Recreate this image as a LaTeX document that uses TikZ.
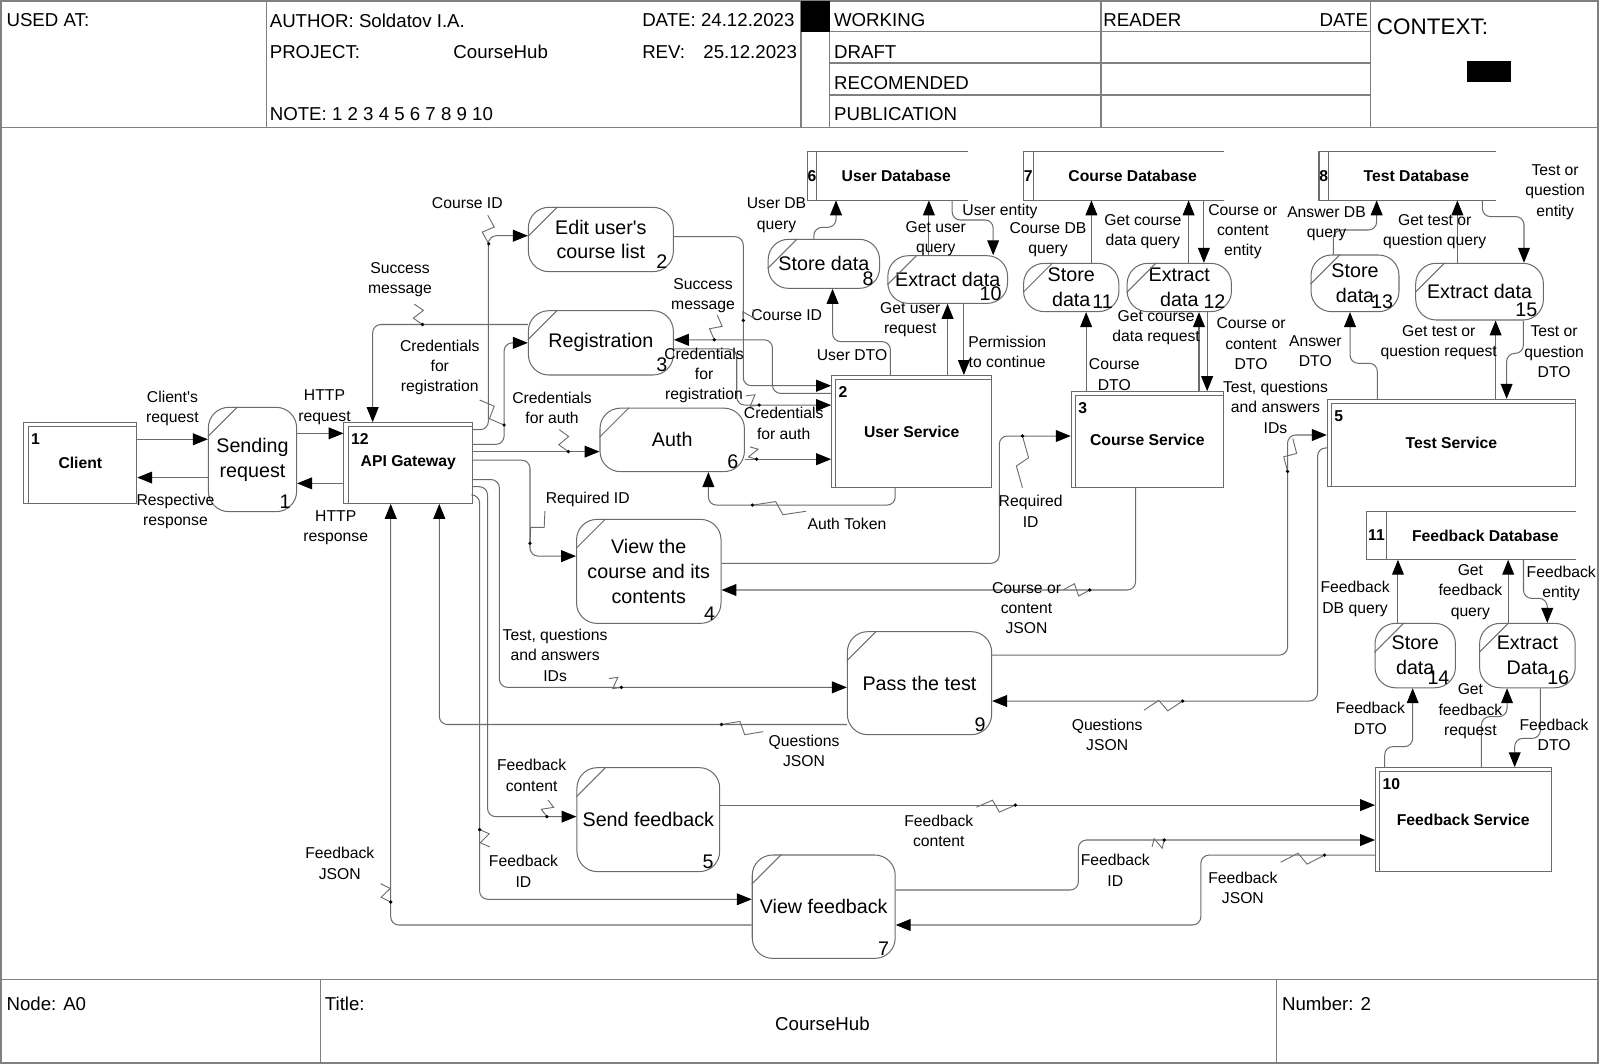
\documentclass[tikz,border=0pt]{standalone}
\usepackage{fontspec}
\setmainfont{Liberation Sans}
\usetikzlibrary{arrows.meta,calc,fit}
\definecolor{lc}{gray}{0.42}
\definecolor{fc}{gray}{0.5}
\newcommand\pr[7]{%
  \node[proct, fit={(#2,#3)(#4,#5)}] (#1) {};
  \node[prtext] (#1t) at (#1.center) {#6};
  \draw[ln] ($(#1.north west)+(0,29)$) -- ($(#1.north west)+(29,0)$);
  \node[prnum, anchor=south east] (#1n) at ($(#1.south east)+(-6,-3)$) {#7};}
\newcommand\eb[7]{%
  \node[ebst, fit={(#2,#3)(#4,#5)}] (#1) {};
  \node[ebnum] (#1t) at (#1.center) {#7};
  \draw[ln] ($(#1.south west)+(4.6,0)$) |- ($(#1.north east)+(0,4.6)$);
  \node[ebnum, anchor=west] (#1n) at ($(#1.north west)+(7,17)$) {#6};}
\newcommand\ds[8]{%
  \node[fit={(#2,#3)(#4,#5)}, inner sep=0pt] (#1) {};
  \draw[ln] (#1.north east) -- (#1.north west) -- (#1.south west) -- (#1.south east);
  \draw[ln] ($(#1.north west)+(#8,0)$) -- ($(#1.south west)+(#8,0)$);
  \node[ebnum] (#1n) at ($(#1.west)+(#8/2,0)$) {#6};
  \node[ebnum] (#1l) at ($(#1.west)!0.5!(#1.east)+(#8/2+4,0)$) {#7};}
\newcommand\sqg[2]{%
  \draw[sqline] (#1) -- ($(#1)!0.42!(#2)!3pt!90:(#2)$) -- ($(#1)!0.58!(#2)!3pt!-90:(#2)$) -- (#2);
  \fill (#1) circle (0.9pt);}
\begin{document}
\begin{tikzpicture}[x=0.5pt,y=-0.5pt,
  ln/.style={draw=lc, line width=0.5pt},
  frame/.style={draw=fc, line width=0.8pt},
  flow/.style={draw=lc, line width=0.5pt, rounded corners=4pt, -{Triangle[length=7.3pt,width=5.8pt,color=black]}},
  sqline/.style={draw=lc, line width=0.45pt},
  lab/.style={font=\fontsize{7.7}{10}\selectfont, align=center, inner sep=0pt},
  hd/.style={font=\fontsize{9.15}{11}\selectfont, inner sep=0pt},
  proct/.style={draw=lc, line width=0.5pt, rounded corners=10pt, inner sep=0pt},
  prtext/.style={inner sep=0pt, align=center, font=\fontsize{9.65}{12.2}\selectfont},
  prnum/.style={inner sep=0pt, font=\fontsize{9.65}{11}\selectfont},
  ebst/.style={draw=lc, line width=0.5pt, inner sep=0pt},
  ebnum/.style={inner sep=0pt, align=center, font=\bfseries\fontsize{7.7}{9}\selectfont}
]
\useasboundingbox (0,0) rectangle (1568,1042.7);
% ---------- frame ----------
\draw[frame] (1,1) rectangle (1566,1042);
\draw[frame] (1,125) -- (1566,125);
\draw[frame] (261,1) -- (261,125);
\draw[frame] (785,1) -- (785,125);
\draw[frame] (813,1) -- (813,125);
\fill (785,1) rectangle (813,31);
\draw[frame] (813,31) -- (1343,31) (813,62) -- (1343,62) (813,93) -- (1343,93);
\draw[frame] (1079,1) -- (1079,125);
\draw[frame] (1343,1) -- (1343,125);
\fill (1437.4,59.8) rectangle (1480.4,80.7);
\draw[frame] (1,960) -- (1566,960);
\draw[frame] (314,960) -- (314,1042);
\draw[frame] (1251,960) -- (1251,1042);
\node[hd, anchor=west] (h1) at (6,20) {USED AT:};
\node[hd, anchor=west] (h2) at (264,20) {AUTHOR: Soldatov I.A.};
\node[hd, anchor=west] (h3) at (264,51) {PROJECT:};
\node[hd, anchor=west] (h4) at (444,51) {CourseHub};
\node[hd, anchor=west] (h5) at (629,20) {DATE: 24.12.2023};
\node[hd, anchor=west] (h6) at (629,51) {REV:};
\node[hd, anchor=west] (h7) at (689,51) {25.12.2023};
\node[hd, anchor=west] (h8) at (264,112) {NOTE: 1 2 3 4 5 6 7 8 9 10};
\node[hd, anchor=west] (h9) at (817,20) {WORKING};
\node[hd, anchor=west] (h10) at (817,51) {DRAFT};
\node[hd, anchor=west] (h11) at (817,81) {RECOMENDED};
\node[hd, anchor=west] (h12) at (817,112) {PUBLICATION};
\node[hd, anchor=west] (h13) at (1081,20) {READER};
\node[hd, anchor=east] (h14) at (1341,20) {DATE};
\node[inner sep=0pt, anchor=west, font=\fontsize{11}{13}\selectfont] (h15) at (1349,26) {CONTEXT:};
\node[hd, anchor=west] (f1) at (6,984) {Node: A0};
\node[hd, anchor=west] (f2) at (318,984) {Title:};
\node[hd] (f3) at (806,1003) {CourseHub};
\node[hd, anchor=west] (f4) at (1256,984) {Number: 2};
% ---------- entities ----------
\eb{client}{23.5}{414.2}{134}{493.3}{1}{Client}
\eb{api}{337.1}{414.2}{463.2}{493.3}{12}{API Gateway}
\eb{us}{815}{368}{972}{477.6}{2}{User Service}
\eb{cs}{1049.8}{383.8}{1199}{477.6}{3}{Course Service}
\eb{ts}{1300.8}{391.3}{1544}{477}{5}{Test Service}
\eb{fs}{1348}{752.3}{1520}{854.2}{10}{Feedback Service}
% ---------- data stores ----------
\ds{udb}{791.4}{148.6}{948}{196}{6}{User Database}{9.4}
\ds{cdb}{1003.1}{148.6}{1199}{196}{7}{Course Database}{9.8}
\ds{tdb}{1293}{148.6}{1465.7}{196}{8}{Test Database}{9.4}
\ds{fdb}{1340}{501.4}{1544.5}{548.2}{11}{Feedback Database}{18.8}
% ---------- processes ----------
\pr{send}{204.2}{399.2}{290.7}{501.4}{Sending\\request}{1}
\pr{edit}{517.8}{203.2}{659.9}{266.2}{Edit user\textquotesingle s\\course list}{2}
\pr{reg}{517.8}{304.5}{659.9}{367.5}{Registration}{3}
\pr{auth}{588}{400}{729.5}{462.2}{Auth}{6}
\pr{view}{565}{509}{706.6}{610.9}{View the\\course and its\\contents}{4}
\pr{pass}{830.4}{619}{971.8}{720}{Pass the test}{9}
\pr{sendfb}{565.4}{752.3}{705.3}{854.2}{Send feedback}{5}
\pr{viewfb}{737.2}{837.9}{877.3}{939.2}{View feedback}{7}
\pr{st8}{752.8}{234.5}{862}{282.6}{Store data}{8}
\pr{ex10}{870.1}{250.6}{987.4}{297.3}{Extract data}{10}
\pr{st11}{1003.1}{258.1}{1096.5}{305.4}{Store\\data}{11}
\pr{ex12}{1104.6}{258.1}{1206.8}{305.4}{Extract\\data}{12}
\pr{st13}{1284.8}{249.9}{1371}{305.4}{Store\\data}{13}
\pr{ex15}{1387.4}{258}{1512.5}{313.6}{Extract data}{15}
\pr{st14}{1347.5}{610.9}{1426.3}{674}{Store\\data}{14}
\pr{ex16}{1450}{610.9}{1543.7}{674}{Extract\\Data}{16}
% ---------- flows ----------
\draw[flow] (client.east |- 0,430.5) -- (send.west |- 0,430.5);
\draw[flow] (send.west |- 0,468) -- (client.east |- 0,468);
\draw[flow] (send.east |- 0,424.7) -- (api.west |- 0,424.7);
\draw[flow] (api.west |- 0,473.7) -- (send.east |- 0,473.7);
\draw[flow] (api.east |- 0,421) -- (478.6,421) -- (478.6,231) -- (edit.west |- 0,231);
\draw[flow] (reg.west |- 0,318) -- (365.2,318) -- (365.2,0 |- api.north);
\draw[flow] (api.east |- 0,435.5) -- (494,435.5) -- (494,336) -- (reg.west |- 0,336);
\draw[flow] (api.east |- 0,442.6) -- (auth.west |- 0,442.6);
\draw[flow] (api.east |- 0,451) -- (519.4,451) -- (519.4,545) -- (view.west |- 0,545);
\draw[flow] (api.east |- 0,470) -- (489.4,470) -- (489.4,673.6) -- (pass.west |- 0,673.6);
\draw[flow] (api.east |- 0,477) -- (477.8,477) -- (477.8,800.3) -- (sendfb.west |- 0,800.3);
\draw[flow] (api.east |- 0,485) -- (470,485) -- (470,881.3) -- (viewfb.west |- 0,881.3);
\draw[flow] (pass.west |- 0,710) -- (430.5,710) -- (430.5,0 |- api.south);
\draw[flow] (viewfb.west |- 0,906.5) -- (382.9,906.5) -- (382.9,0 |- api.south);
\draw[flow] (edit.east |- 0,232) -- (728.4,232) -- (728.4,378) -- (us.west |- 0,378);
\draw[flow] (us.west |- 0,385.5) -- (757,385.5) -- (757,333) -- (reg.east |- 0,333);
\draw[flow] (reg.east |- 0,342) -- (722,342) -- (722,397) -- (us.west |- 0,397);
\draw[flow] (auth.east |- 0,450) -- (us.west |- 0,450);
\draw[flow] (877.3,0 |- us.south) -- (877.3,495) -- (694.2,495) -- (694.2,0 |- auth.south);
\draw[flow] (view.east |- 0,552) -- (979.3,552) -- (979.3,427.3) -- (cs.west |- 0,427.3);
\draw[flow] (1112.8,0 |- cs.south) -- (1112.8,578.2) -- (view.east |- 0,578.2);
\draw[flow] (pass.east |- 0,642) -- (1261.8,642) -- (1261.8,426.3) -- (ts.west |- 0,426.3);
\draw[flow] (ts.west |- 0,439) -- (1291.2,439) -- (1291.2,687) -- (pass.east |- 0,687);
\draw[flow] (sendfb.east |- 0,789) -- (fs.west |- 0,789);
\draw[flow] (viewfb.east |- 0,872.2) -- (1056.8,872.2) -- (1056.8,823.2) -- (fs.west |- 0,823.2);
\draw[flow] (fs.west |- 0,838) -- (1176.8,838) -- (1176.8,906.5) -- (viewfb.east |- 0,906.5);
% user db
\draw[flow] (872.6,0 |- us.north) -- (872.6,334.8) -- (815.9,334.8) -- (815.9,0 |- st8.south);
\draw[flow] (797.6,0 |- st8.north) -- (797.6,222.8) -- (819.3,222.8) -- (819.3,0 |- udb.south);
\draw[flow] (910.3,0 |- ex10.north) -- (910.3,0 |- udb.south);
\draw[flow] (933.1,0 |- udb.south) -- (933.1,215.6) -- (973.3,215.6) -- (973.3,0 |- ex10.north);
\draw[flow] (928.6,0 |- us.north) -- (928.6,0 |- ex10.south);
\draw[flow] (944.6,0 |- ex10.south) -- (944.6,0 |- us.north);
% course db
\draw[flow] (1064.4,0 |- cs.north) -- (1064.4,0 |- st11.south);
\draw[flow] (1069.6,0 |- st11.north) -- (1069.6,0 |- cdb.south);
\draw[flow] (1164.8,0 |- ex12.north) -- (1164.8,0 |- cdb.south);
\draw[flow] (1179.8,0 |- cdb.south) -- (1179.8,0 |- ex12.north);
\draw[flow] (1175,0 |- cs.north) -- (1175,0 |- ex12.south);
\draw[flow] (1183,0 |- ex12.south) -- (1183,0 |- cs.north);
% test db
\draw[flow] (1349.8,0 |- ts.north) -- (1349.8,356) -- (1323,356) -- (1323,0 |- st13.south);
\draw[flow] (1306.7,0 |- st13.north) -- (1306.7,225.4) -- (1349.1,225.4) -- (1349.1,0 |- tdb.south);
\draw[flow] (1428.2,0 |- ex15.north) -- (1428.2,0 |- tdb.south);
\draw[flow] (1452.7,0 |- tdb.south) -- (1452.7,212.3) -- (1493.5,212.3) -- (1493.5,0 |- ex15.north);
\draw[flow] (1465.7,0 |- ts.north) -- (1465.7,0 |- ex15.south);
\draw[flow] (1492.9,0 |- ex15.south) -- (1492.9,346.3) -- (1476.5,346.3) -- (1476.5,0 |- ts.north);
% feedback db
\draw[flow] (1357,0 |- fs.north) -- (1357,731.7) -- (1384.4,731.7) -- (1384.4,0 |- st14.south);
\draw[flow] (1370,0 |- st14.north) -- (1370,0 |- fdb.south);
\draw[flow] (1478,0 |- ex16.north) -- (1478,0 |- fdb.south);
\draw[flow] (1493,0 |- fdb.south) -- (1493,586.4) -- (1516.3,586.4) -- (1516.3,0 |- ex16.north);
\draw[flow] (1451.8,0 |- fs.north) -- (1451.8,702.3) -- (1476.9,702.3) -- (1476.9,0 |- ex16.south);
\draw[flow] (1509.6,0 |- ex16.south) -- (1509.6,723.6) -- (1484.4,723.6) -- (1484.4,0 |- fs.north);
% ---------- labels ----------
\node[lab] (l1) at (169,400) {Client\textquotesingle s\\request};
\node[lab] (l2) at (172,501) {Respective\\response};
\node[lab] (l3) at (318,399) {HTTP\\request};
\node[lab] (l4) at (329,517) {HTTP\\response};
\node[lab] (l5) at (458,199) {Course ID};
\node[lab] (l6) at (392,274) {Success\\message};
\node[lab] (l7) at (431,360) {Credentials\\for\\registration};
\node[lab] (l8) at (541,400) {Credentials\\for auth};
\node[lab] (l9) at (576,489) {Required ID};
\node[lab] (l10) at (544,642) {Test, questions\\and answers\\IDs};
\node[lab] (l11) at (788,736) {Questions\\JSON};
\node[lab] (l12) at (521,760) {Feedback\\content};
\node[lab] (l13) at (513,854) {Feedback\\ID};
\node[lab] (l14) at (333,846) {Feedback\\JSON};
\node[lab] (l15) at (689,290) {Success\\message};
\node[lab] (l16) at (771,309) {Course ID};
\node[lab] (l17) at (690,368) {Credentials\\for\\registration};
\node[lab] (l18) at (768,415) {Credentials\\for auth};
\node[lab] (l19) at (830,513) {Auth Token};
\node[lab] (l20) at (761,211) {User DB\\query};
\node[lab] (l21) at (917,234) {Get user\\query};
\node[lab] (l22) at (980,207) {User entity};
\node[lab] (l23) at (892,313) {Get user\\request};
\node[lab] (l24) at (987,345) {Permission\\to continue};
\node[lab] (l25) at (835,348) {User DTO};
\node[lab] (l26) at (1027,235) {Course DB\\query};
\node[lab] (l27) at (1120,227) {Get course\\data query};
\node[lab] (l28) at (1218,227) {Course or\\content\\entity};
\node[lab] (l29) at (1092,367) {Course\\DTO};
\node[lab] (l30) at (1133,321) {Get course\\data request};
\node[lab] (l31) at (1226,337) {Course or\\content\\DTO};
\node[lab] (l32) at (1010,501) {Required\\ID};
\node[lab] (l33) at (1006,596) {Course or\\content\\JSON};
\node[lab] (l34) at (1250,399) {Test, questions\\and answers\\IDs};
\node[lab] (l35) at (1300,219) {Answer DB\\query};
\node[lab] (l36) at (1406,227) {Get test or\\question query};
\node[lab] (l37) at (1524,188) {Test or\\question\\entity};
\node[lab] (l38) at (1289,344) {Answer\\DTO};
\node[lab] (l39) at (1410,336) {Get test or\\question request};
\node[lab] (l40) at (1523,345) {Test or\\question\\DTO};
\node[lab] (l41) at (1085,720) {Questions\\JSON};
\node[lab] (l42) at (1328,587) {Feedback\\DB query};
\node[lab] (l43) at (1441,580) {Get\\feedback\\query};
\node[lab] (l44) at (1530,572) {Feedback\\entity};
\node[lab] (l45) at (1343,704) {Feedback\\DTO};
\node[lab] (l46) at (1441,697) {Get\\feedback\\request};
\node[lab] (l47) at (1523,720) {Feedback\\DTO};
\node[lab] (l48) at (920,814) {Feedback\\content};
\node[lab] (l49) at (1093,853) {Feedback\\ID};
\node[lab] (l50) at (1218,870) {Feedback\\JSON};
% ---------- squiggles ----------
\sqg{479,239}{478,211}
\sqg{414,318}{406,298}
\sqg{494,416.5}{470,392}
\sqg{557,442.6}{548,421}
\sqg{519.4,532.5}{534,501}
\sqg{609,673.6}{597,665}
\sqg{707,710}{748,717}
\sqg{536,800.3}{537,784}
\sqg{470,813}{480,830}
\sqg{382.9,884}{373,866}
\sqg{700,333}{703,309}
\sqg{728.4,314}{738,303}
\sqg{744,397}{731,388}
\sqg{741.5,450}{735,438}
\sqg{737.4,495}{790,501}
\sqg{1002,427.3}{1002,478}
\sqg{1068,578.2}{1042,578}
\sqg{1261.8,462}{1267,430}
\sqg{1159,687}{1121,696}
\sqg{995,789}{957,791}
\sqg{1141,823.2}{1129,830}
\sqg{1298,838}{1255,845}
\end{tikzpicture}
\end{document}
